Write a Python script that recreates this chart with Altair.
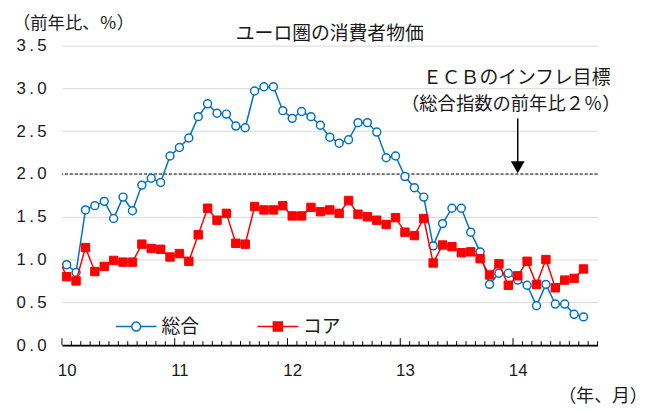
import altair as alt
import pandas as pd

# ---- data ----
series_names = ["総合", "コア"]
months = list(range(56))  # 0 = 2010/01 ... 55 = 2014/08
headline = [0.94, 0.85, 1.58, 1.63, 1.68, 1.48, 1.73, 1.57, 1.87, 1.95, 1.90, 2.21,
            2.31, 2.42, 2.67, 2.82, 2.71, 2.70, 2.56, 2.54, 2.97, 3.02, 3.02, 2.74,
            2.65, 2.73, 2.67, 2.57, 2.43, 2.36, 2.40, 2.60, 2.60, 2.49, 2.19, 2.21,
            1.97, 1.84, 1.73, 1.16, 1.42, 1.60, 1.60, 1.32, 1.09, 0.71, 0.84, 0.84,
            0.76, 0.70, 0.46, 0.71, 0.48, 0.48, 0.36, 0.33]
core = [0.80, 0.75, 1.14, 0.86, 0.92, 0.99, 0.97, 0.97, 1.18, 1.13, 1.12, 1.03,
        1.07, 0.98, 1.29, 1.60, 1.46, 1.54, 1.19, 1.18, 1.62, 1.58, 1.58, 1.63,
        1.51, 1.51, 1.61, 1.56, 1.58, 1.54, 1.69, 1.53, 1.50, 1.46, 1.41, 1.49,
        1.32, 1.28, 1.48, 0.96, 1.17, 1.15, 1.08, 1.09, 1.01, 0.82, 0.95, 0.70,
        0.81, 0.98, 0.71, 1.00, 0.67, 0.76, 0.78, 0.89]
prev_month = -1          # 2009/12, only the line segment entering the plot
prev_headline = 0.95
prev_core = 1.05
year_positions = [0, 12, 24, 36, 48]
year_labels = ["10", "11", "12", "13", "14"]
n_categories = 57        # axis spans 2010/01 .. 2014/09
y_ticks = [0.0, 0.5, 1.0, 1.5, 2.0, 2.5, 3.0, 3.5]
target = 2.0
annot_lines = ["ＥＣＢのインフレ目標", "（総合指数の前年比２％）"]
title_text = "ユーロ圏の消費者物価"
y_title = "（前年比、％）"
x_title = "（年、月）"

# ---- style ----
JP = "Noto Sans CJK JP"
NUM = "Liberation Sans"
BLUE = "#0070C0"
RED = "#FF0000"
INK = "#1a1a1a"
W, H = 541, 302.5

head_df = pd.DataFrame({"m": [prev_month] + months, "v": [prev_headline] + headline})
core_df = pd.DataFrame({"m": [prev_month] + months, "v": [prev_core] + core})
head_pts = head_df[head_df.m >= 0]
core_pts = core_df[core_df.m >= 0]

x_scale = alt.Scale(domain=[-0.5, n_categories - 0.5], nice=False, zero=False)
y_scale = alt.Scale(domain=[0, 3.5], nice=False)

x_label_expr = "".join(f"datum.value == {p} ? '{l}' : " for p, l in zip(year_positions, year_labels)) + "''"

X = alt.X("m:Q", scale=x_scale, axis=alt.Axis(
    values=year_positions, labelExpr=x_label_expr, ticks=False, grid=False,
    domain=True, domainColor="black", domainWidth=2,
    labelFont=NUM, labelFontSize=17, labelColor=INK, labelPadding=18,
    title=x_title, titleFont=JP, titleFontSize=18, titleFontWeight="normal",
    titleColor=INK, titleX=546, titleY=52, titleAlign="center",
    titleBaseline="middle"))
Y = alt.Y("v:Q", scale=y_scale, axis=alt.Axis(
    values=y_ticks, format=".1f", labelExpr="replace(datum.label, '.', '\u2009.\u2009')",
    ticks=False, domain=False, grid=True, gridColor="#d9d9d9", gridWidth=1,
    labelFont=NUM, labelFontSize=17, labelColor=INK, labelPadding=16,
    title=y_title, titleFont=JP, titleFontSize=17.5, titleFontWeight="normal",
    titleColor=INK, titleAngle=0, titleAlign="left", titleBaseline="middle",
    titleX=-50, titleY=-22))

# target dashed line
target_rule = alt.Chart(pd.DataFrame({"v": [target]})).mark_rule(
    color="black", strokeDash=[3, 2], strokeWidth=1).encode(y=Y)

# monthly tick marks pointing into the plot
tick_df = pd.DataFrame({"m": [i - 0.5 for i in range(n_categories + 1)],
                        "major": [(i % 12 == 0) for i in range(n_categories + 1)]})
minor_ticks = alt.Chart(tick_df[~tick_df.major]).mark_rule(color="black", strokeWidth=1).encode(
    x=X, y=alt.value(H), y2=alt.value(H - 4))
major_ticks = alt.Chart(tick_df[tick_df.major]).mark_rule(color="black", strokeWidth=1).encode(
    x=X, y=alt.value(H), y2=alt.value(H - 7))

head_line = alt.Chart(head_df).mark_line(color=BLUE, strokeWidth=1.5, clip=True).encode(x=X, y=Y)
head_point = alt.Chart(head_pts).mark_point(shape="circle", size=64, fill="white", stroke=BLUE,
                                           strokeWidth=1.5, opacity=1, filled=False).encode(x=X, y=Y)
core_line = alt.Chart(core_df).mark_line(color=RED, strokeWidth=1.5, clip=True).encode(x=X, y=Y)
core_point = alt.Chart(core_pts).mark_point(shape="square", size=72, fill=RED, stroke=RED,
                                           strokeWidth=1, opacity=1, filled=True).encode(x=X, y=Y)

# arrow + annotation
arrow_df = pd.DataFrame({"m": [48], "v": [2.65], "v2": [2.12]})
arrow_shaft = alt.Chart(arrow_df).mark_rule(color="black", strokeWidth=1.5).encode(
    x=X, y=Y, y2="v2:Q")
arrow_head = alt.Chart(pd.DataFrame({"m": [48], "v": [2.085]})).mark_point(
    shape="triangle-down", size=110, fill="black", stroke="black", filled=True, opacity=1).encode(x=X, y=Y)
annot_df = pd.DataFrame({"m": [48, 48], "v": [3.123, 2.818], "t": annot_lines})
annot1 = alt.Chart(annot_df.iloc[[0]]).mark_text(font=JP, fontSize=19, color=INK,
                                                 align="center", baseline="middle", dx=-1).encode(
    x=X, y=Y, text="t:N")
annot2 = alt.Chart(annot_df.iloc[[1]]).mark_text(font=JP, fontSize=18.5, color=INK,
                                                 align="center", baseline="middle", dx=-7).encode(
    x=X, y=Y, text="t:N")

# chart title as a text mark centred over the plot
title_mark = alt.Chart(pd.DataFrame({"t": [title_text]})).mark_text(
    font=JP, fontSize=19, color=INK, align="center", baseline="middle").encode(
    x=alt.value(W / 2), y=alt.value(-12), text="t:N")

# legend (custom line+marker symbols)
circ = "M-1,0L-0.22,0M0.22,0L1,0M-0.22,0A0.22,0.22,0,1,1,0.22,0A0.22,0.22,0,1,1,-0.22,0Z"
sq = "M-1,0L1,0M-0.22,-0.22L0.22,-0.22L0.22,0.22L-0.22,0.22Z"
legend_spec = alt.Legend(orient="none", legendX=53.5, legendY=262, direction="horizontal",
                         title=None, symbolSize=1681, symbolStrokeWidth=1.5, symbolOpacity=1,
                         labelFont=JP, labelFontSize=19, labelColor=INK, labelOffset=4,
                         columnPadding=55)
legend_layer = alt.Chart(pd.DataFrame({"s": series_names})).mark_point(clip=True).encode(
    x=alt.value(-200), y=alt.value(-200),
    shape=alt.Shape("s:N", scale=alt.Scale(domain=series_names, range=[circ, sq]), legend=legend_spec),
    stroke=alt.Stroke("s:N", scale=alt.Scale(domain=series_names, range=[BLUE, RED]), legend=legend_spec),
    fill=alt.Fill("s:N", scale=alt.Scale(domain=series_names, range=["white", RED]), legend=legend_spec),
)

chart = alt.layer(
    target_rule, minor_ticks, major_ticks,
    head_line, head_point, core_line, core_point,
    arrow_shaft, arrow_head, annot1, annot2, title_mark, legend_layer,
).properties(
    width=W, height=H,
    autosize=alt.AutoSizeParams(type="none"),
    padding={"left": 54.5, "top": 36, "right": 60, "bottom": 62},
).configure_view(strokeWidth=0)

chart.save("out.html", embed_options={"renderer": "svg", "actions": False})
